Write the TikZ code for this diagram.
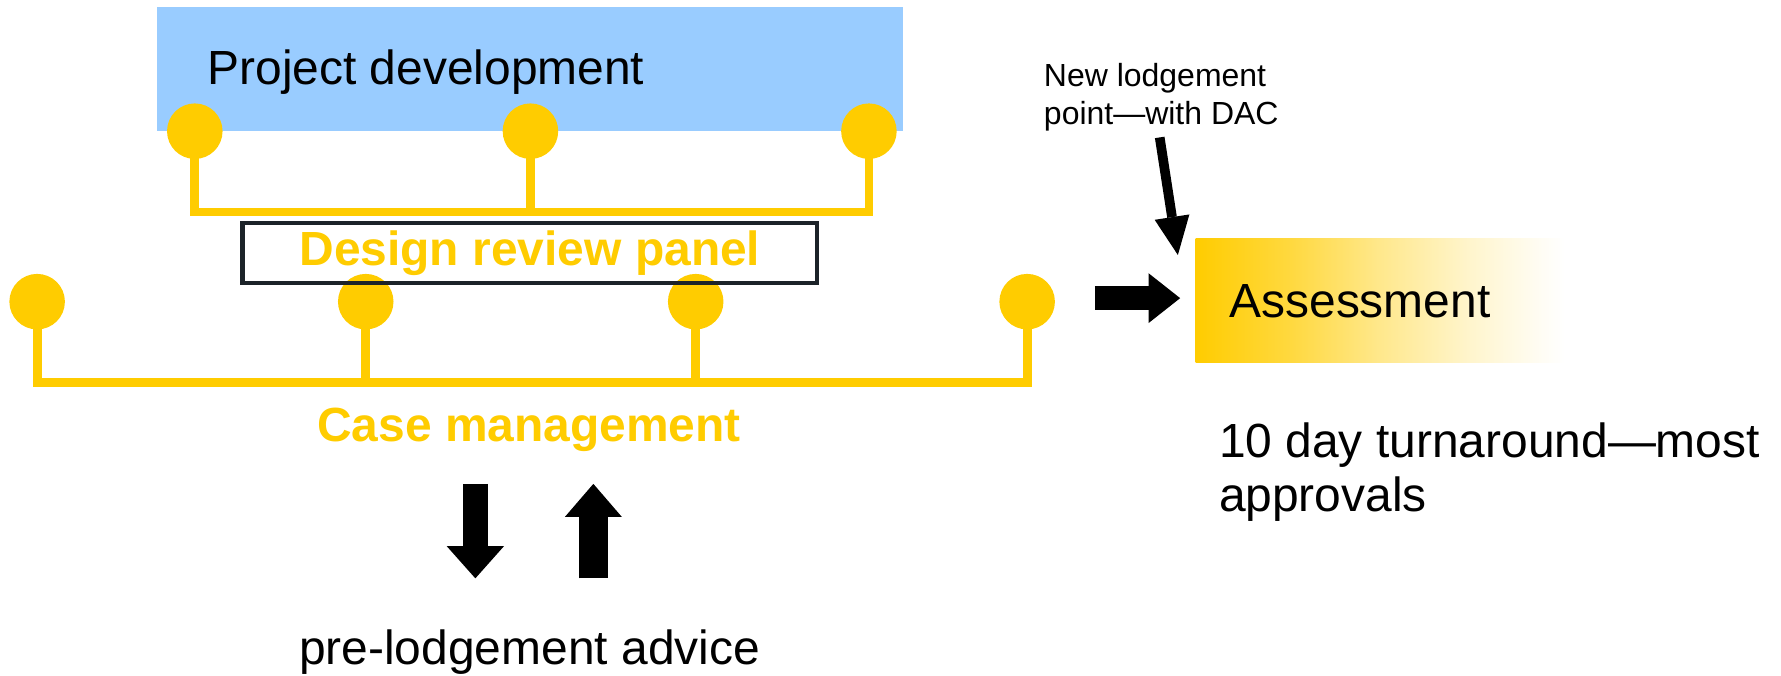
\documentclass[tikz,border=0pt]{standalone}
\usepackage{fontspec}
\setmainfont{Liberation Sans}
\usetikzlibrary{arrows.meta}

\definecolor{panelyellow}{HTML}{FFCC00}
\definecolor{devblue}{HTML}{99CCFF}
\definecolor{framegrey}{HTML}{1C2329}
\newcommand{\bigfont}{\fontsize{13.64pt}{15.5pt}\selectfont}
\newcommand{\smallfont}{\fontsize{9.1pt}{10.9pt}\selectfont}
\pgfdeclarehorizontalshading{assessfade}{100bp}{color(0bp)=(panelyellow); color(25bp)=(panelyellow); color(38bp)=(panelyellow!75); color(50bp)=(panelyellow!45); color(62bp)=(panelyellow!20); color(72bp)=(panelyellow!4); color(75bp)=(white); color(100bp)=(white)}

\begin{document}
\begin{tikzpicture}[x=0.3232pt,y=-0.3232pt,
  knob/.style={circle,fill=panelyellow,inner sep=0pt,minimum size=15.8pt},
  rail/.style={panelyellow,line width=2.5pt,line join=miter},
  plaintext/.style={inner sep=0pt,font=\bigfont},
  goldtext/.style={inner sep=0pt,font=\bigfont\bfseries,text=panelyellow},
  blockarrow/.style n args={3}{line width=#1,-{Triangle[length=#2,width=#3,line width=0pt]}}]
\useasboundingbox (0,0) rectangle (1568,595);

% project development
\node[fill=devblue,inner sep=0pt,minimum width=212pt,minimum height=35.3pt,anchor=north west] (devbox) at (138,5.3) {};
\node[plaintext,anchor=base west] (projdev) at (182,74.8) {Project development};

% upper rail
\coordinate (topbar) at (0,186.7);
\node[knob] (t1) at (171.5,115.5) {};
\node[knob] (t2) at (467,115.5) {};
\node[knob] (t3) at (765,115.5) {};
\draw[rail] (t1.center) |- (t3.center |- topbar) -- (t3.center);
\draw[rail] (t2.center) -- (t2.center |- topbar);

% lower rail
\coordinate (lowbar) at (0,336.8);
\node[knob] (b1) at (32.7,265.6) {};
\node[knob] (b2) at (322,265.6) {};
\node[knob] (b3) at (612.5,265.6) {};
\node[knob] (b4) at (904.3,265.6) {};
\draw[rail] (b1.center) |- (b4.center |- lowbar) -- (b4.center);
\draw[rail] (b2.center) -- (b2.center |- lowbar);
\draw[rail] (b3.center) -- (b3.center |- lowbar);

\node[goldtext,draw=framegrey,line width=1.2pt,minimum width=163.6pt,minimum height=17.1pt] (panel) at (466.5,222.5) {Design review panel};
\node[goldtext,anchor=base] (casemgmt) at (465.7,388.9) {Case management};

% advice loop
\coordinate (downtail) at (418.5,426);
\coordinate (downtip) at (418.5,509.2);
\coordinate (uptail) at (522.4,509.2);
\coordinate (uptip) at (522.4,426);
\draw[blockarrow={7.1pt}{9.2pt}{16.35pt}] (downtail) -- (downtip);
\draw[blockarrow={8.4pt}{9.4pt}{16.2pt}] (uptail) -- (uptip);
\node[plaintext,anchor=base] (advice) at (466.2,584.6) {pre-lodgement advice};

% assessment
\node[shade,shading=assessfade,inner sep=0pt,minimum width=105pt,minimum height=35.1pt,anchor=north west] (assess) at (1052,209.7) {};
\node[plaintext,anchor=base west] (assesstext) at (1081.8,279.4) {Assessment};
\coordinate (intail) at (964,262.5);
\draw[blockarrow={6.8pt}{9pt}{14.2pt},shorten >=4.2pt] (intail) -- (intail -| assess.west);

% base of a two-line node is its last line
\node[inner sep=0pt,font=\smallfont,align=left,anchor=base west] (newpoint) at (918.5,110) {New lodgement\\point—with DAC};
\coordinate (dactail) at (1021,121);
\coordinate (dactip) at (1037,224.5);
\draw[blockarrow={2.75pt}{10.9pt}{10pt}] (dactail) -- (dactip);

\node[plaintext,align=left,anchor=base west] (turnaround) at (1072.6,450.5) {10 day turnaround—most\\approvals};
\end{tikzpicture}
\end{document}
